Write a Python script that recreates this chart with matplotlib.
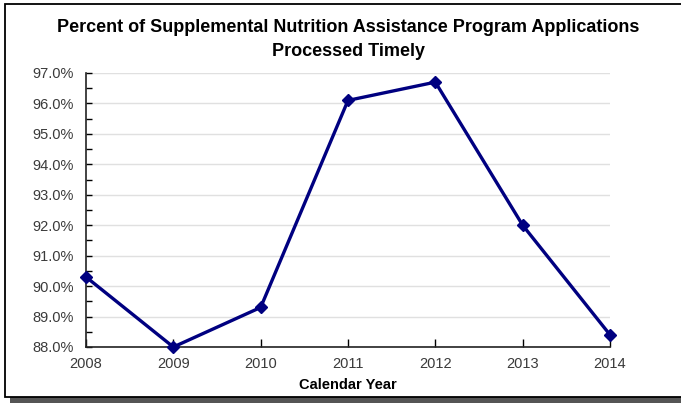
import matplotlib
matplotlib.use('Agg')
import matplotlib.pyplot as plt
from matplotlib.patches import Rectangle
from matplotlib.ticker import MultipleLocator, FuncFormatter

# Data
years = [2008, 2009, 2010, 2011, 2012, 2013, 2014]
pct_timely = [90.3, 88.0, 89.3, 96.1, 96.7, 92.0, 88.4]

plt.rcParams['font.family'] = ['Liberation Sans', 'DejaVu Sans']

W, H = 681, 403
fig = plt.figure(figsize=(W / 100, H / 100), dpi=100)

# outer frame with drop shadow
fig.patches.append(Rectangle((10 / W, 0), 1, 6 / H, transform=fig.transFigure,
                             facecolor='#555555', edgecolor='none', zorder=0))
fig.patches.append(Rectangle((5 / W, 1 - 397 / H), 1, 393 / H, transform=fig.transFigure,
                             facecolor='white', edgecolor='black', linewidth=1.3, zorder=1))

ax = fig.add_axes([86 / W, 1 - 347 / H, (610 - 86) / W, (347 - 73) / H])
ax.set_zorder(2)
ax.patch.set_alpha(0)

ax.plot(years, pct_timely, color='#000080', linewidth=2.4, marker='D',
        markersize=6, clip_on=False, zorder=3)

ax.set_xlim(2008, 2014)
ax.set_ylim(88, 97)
ax.set_xticks(years)
ax.yaxis.set_major_locator(MultipleLocator(1))
ax.yaxis.set_minor_locator(MultipleLocator(0.5))
ax.yaxis.set_major_formatter(FuncFormatter(lambda v, p: f'{v:.1f}%'))
ax.grid(axis='y', which='major', color='#e0e0e0', linewidth=1)
ax.set_axisbelow(True)

for s in ['top', 'right']:
    ax.spines[s].set_visible(False)
for s in ['left', 'bottom']:
    ax.spines[s].set_linewidth(1.2)
    ax.spines[s].set_color('#222222')

ax.tick_params(axis='y', which='both', direction='in', length=4, width=1,
               labelsize=10.5, labelcolor='#3a3a3a', pad=9)
ax.tick_params(axis='x', direction='in', length=6, width=1,
               labelsize=10.5, labelcolor='#3a3a3a', pad=7)

ax.set_xlabel('Calendar Year', fontsize=10.5, fontweight='bold', labelpad=5)

fig.text(348 / W, 1 - 28 / H, 'Percent of Supplemental Nutrition Assistance Program Applications',
         ha='center', va='center', fontsize=13, fontweight='bold')
fig.text(348 / W, 1 - 51 / H, 'Processed Timely',
         ha='center', va='center', fontsize=13, fontweight='bold')

fig.savefig('out.png', dpi=100)
